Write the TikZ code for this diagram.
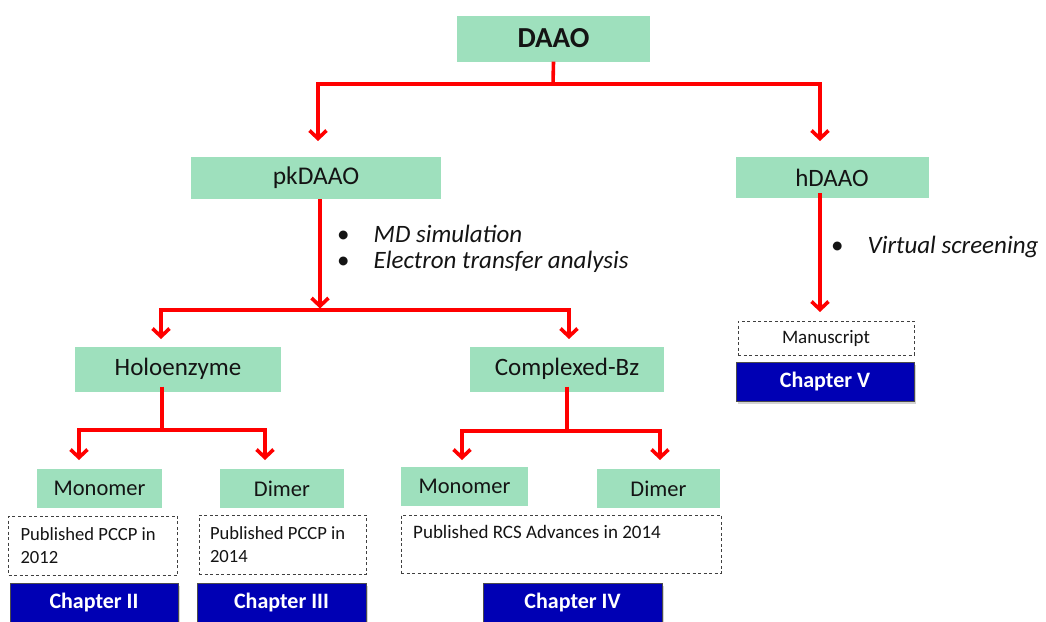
\documentclass[tikz,border=0pt]{standalone}
\usepackage{fontspec}
\setmainfont{Carlito}
\usetikzlibrary{arrows.meta,shadows}
\definecolor{boxgreen}{HTML}{9EE0BD}
\definecolor{chapblue}{HTML}{0000B4}
\definecolor{txt}{HTML}{141414}
\newcommand{\fs}[1]{\fontsize{#1}{#1}\selectfont}
\begin{document}
\begin{tikzpicture}[x=1pt,y=-1pt,
  gbox/.style={fill=boxgreen, draw=none, inner sep=0pt, text=txt},
  pubbox/.style={draw=black!75, line width=1pt, dash pattern=on 3pt off 2.5pt, fill=white, inner sep=0pt, text=txt},
  chapbox/.style={fill=chapblue, draw=black!70, line width=0.8pt, inner sep=0pt, text=white,
    font=\fs{22}\bfseries, drop shadow={shadow xshift=2pt, shadow yshift=-3pt, opacity=0.35}},
  rl/.style={draw=red, line width=3.6pt},
  ra/.style={draw=red, line width=3.6pt, -{Straight Barb[length=8pt,width=17pt]}},
  bul/.style={anchor=west, inner sep=0pt, text=txt, font=\fs{25}}
]
\useasboundingbox (0,0) rectangle (1046,621);

% nodes
\node[gbox, minimum width=193pt, minimum height=46pt, font=\fs{29}\bfseries] (DAAO) at (553.5,38.5) {DAAO};
\node[gbox, minimum width=250pt, minimum height=42pt, font=\fs{25.5}] (pk) at (316,178) {pkDAAO};
\node[gbox, minimum width=193pt, minimum height=41pt, font=\fs{25}] (h) at (832,177.5) {hDAAO};
\node[gbox, minimum width=206pt, minimum height=45pt, font=\fs{25}] (holo) at (178,369) {Holoenzyme};
\node[gbox, minimum width=194pt, minimum height=45pt, font=\fs{25}] (cbz) at (567,369) {Complexed-Bz};
\node[gbox, minimum width=125pt, minimum height=39pt, font=\fs{22.5}] (mono1) at (99.5,488.5) {Monomer};
\node[gbox, minimum width=124pt, minimum height=39pt, font=\fs{22.5}] (dim1) at (282,488.5) {Dimer};
\node[gbox, minimum width=127pt, minimum height=39pt, font=\fs{22.5}] (mono2) at (464.5,486.5) {Monomer};
\node[gbox, minimum width=123pt, minimum height=39pt, font=\fs{22.5}] (dim2) at (658.5,488.5) {Dimer};

\node[pubbox, minimum width=169pt, minimum height=59pt, text width=145pt, align=flush left, font=\fontsize{18.6}{23}\selectfont] (pub1) at (93,545.5) {Published PCCP in\\2012};
\node[pubbox, minimum width=167pt, minimum height=59pt, text width=145pt, align=flush left, font=\fontsize{18.6}{23}\selectfont] (pub2) at (282.5,544.5) {Published PCCP in\\2014};
\node[pubbox, minimum width=320pt, minimum height=58pt] (pub3) at (561,544) {};
\node[anchor=west, inner sep=0pt, text=txt, font=\fs{19}] (pub3t) at (413,532) {Published RCS Advances in 2014};
\node[pubbox, minimum width=176pt, minimum height=34pt, font=\fs{19}] (manu) at (826,338) {Manuscript};

\node[chapbox, minimum width=168pt, minimum height=39pt] (ch2) at (94,602.5) {Chapter II};
\node[chapbox, minimum width=169pt, minimum height=39pt] (ch3) at (281.5,602.5) {Chapter III};
\node[chapbox, minimum width=179pt, minimum height=39pt] (ch4) at (572.5,602.5) {Chapter IV};
\node[chapbox, minimum width=178pt, minimum height=39pt] (ch5) at (825,381.5) {Chapter V};

% bullets
\node[bul] (b1) at (337,234) {•\hspace{24pt}\textit{MD simulation}};
\node[bul] (b2) at (337,262) {•\hspace{24pt}\textit{Electron transfer analysis}};
\node[bul] (b3) at (831,247) {•\hspace{24pt}\textit{Virtual screening}};

% connectors
\coordinate (j1) at (553,84);
\coordinate (t1) at (318,141);
\coordinate (t2) at (820,141);
\draw[rl] (DAAO.south) -- (j1);
\draw[ra] (j1) -| (t1);
\draw[ra] (j1) -| (t2);

\coordinate (j2) at (320,310);
\coordinate (t3) at (161,339);
\coordinate (t4) at (569,339);
\draw[ra] ([xshift=4pt]pk.south) -- ([yshift=1.5pt]j2);
\draw[ra] (j2) -| (t3);
\draw[ra] (j2) -| (t4);

\coordinate (t5) at (820,312);
\draw[ra] ([xshift=-12pt,yshift=5pt]h.south) -- (t5);

\coordinate (j3) at (162,430);
\coordinate (t6) at (79,460);
\coordinate (t7) at (265,460);
\draw[rl] ([xshift=-16pt,yshift=5pt]holo.south) -- (j3);
\draw[ra] (j3) -| (t6);
\draw[ra] (j3) -| (t7);

\coordinate (j4) at (567,431);
\coordinate (t8) at (462,460);
\coordinate (t9) at (660,460);
\draw[rl] ([yshift=5pt]cbz.south) -- (j4);
\draw[ra] (j4) -| (t8);
\draw[ra] (j4) -| (t9);
\end{tikzpicture}
\end{document}
